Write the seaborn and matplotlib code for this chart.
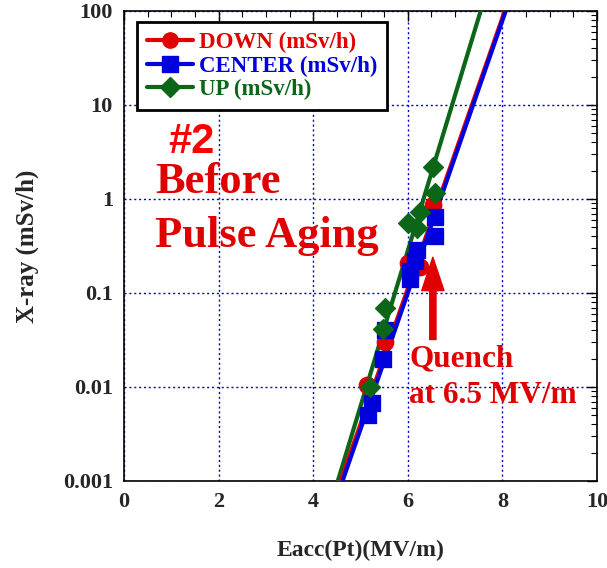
import numpy as np
import pandas as pd
import seaborn as sns
import matplotlib.pyplot as plt
from matplotlib.lines import Line2D
from matplotlib.ticker import MultipleLocator, LogLocator, NullFormatter, FixedLocator, FixedFormatter

sns.set_style('white')
plt.rcParams['font.family'] = ['Liberation Serif', 'DejaVu Serif']
plt.rcParams['font.weight'] = 'bold'

# measured points (Eacc MV/m, X-ray mSv/h)
down_x = [5.14, 5.52, 6.00, 6.26, 6.53]
down_y = [0.0105, 0.030, 0.21, 0.19, 0.87]

center_x = [5.16, 5.24, 5.48, 5.52, 6.05, 6.05, 6.15, 6.20, 6.58, 6.58]
center_y = [0.005, 0.0068, 0.020, 0.040, 0.14, 0.17, 0.22, 0.29, 0.40, 0.64]

up_x = [5.20, 5.48, 5.52, 6.00, 6.19, 6.26, 6.53, 6.58]
up_y = [0.010, 0.041, 0.070, 0.56, 0.49, 0.72, 2.2, 1.16]

# exponential fit lines
down_fit_x = [4.58, 8.05]
down_fit_y = [0.001, 100]
center_fit_x = [4.62, 8.07]
center_fit_y = [0.001, 100]
up_fit_x = [4.52, 7.54]
up_fit_y = [0.001, 100]

red = '#E00000'
blue = '#0000DD'
green = '#0B6618'

fig, ax = plt.subplots(figsize=(6.07, 5.68), dpi=100)
fig.subplots_adjust(left=124/607, right=597/607, top=1-11/568, bottom=1-481/568)

# fit lines
for fx, fy, c in [(up_fit_x, up_fit_y, green), (down_fit_x, down_fit_y, red),
                  (center_fit_x, center_fit_y, blue)]:
    sns.lineplot(x=fx, y=fy, color=c, lw=3, ax=ax, zorder=3)

df_d = pd.DataFrame({'x': down_x, 'y': down_y})
df_c = pd.DataFrame({'x': center_x, 'y': center_y})
df_u = pd.DataFrame({'x': up_x, 'y': up_y})
sns.scatterplot(data=df_d, x='x', y='y', marker='o', s=140, color=red, edgecolor=red, ax=ax, zorder=4)
sns.scatterplot(data=df_c, x='x', y='y', marker='s', s=140, color=blue, edgecolor=blue, ax=ax, zorder=5)
sns.scatterplot(data=df_u, x='x', y='y', marker='D', s=105, color=green, edgecolor=green, ax=ax, zorder=6)

ax.set_yscale('log')
ax.set_xlim(0, 10)
ax.set_ylim(0.001, 100)

ax.xaxis.set_major_locator(MultipleLocator(2))
ax.xaxis.set_minor_locator(MultipleLocator(0.5))
ax.yaxis.set_major_locator(FixedLocator([0.001, 0.01, 0.1, 1, 10, 100]))
ax.yaxis.set_major_formatter(FixedFormatter(['0.001', '0.01', '0.1', '1', '10', '100']))
ax.yaxis.set_minor_locator(LogLocator(base=10, subs=np.arange(2, 10), numticks=20))
ax.yaxis.set_minor_formatter(NullFormatter())

ax.tick_params(which='both', direction='in', top=True, right=True, color='black')
ax.tick_params(which='major', length=7, width=1, labelsize=16, pad=8)
ax.tick_params(which='minor', length=4, width=0.8)
for lab in ax.get_xticklabels() + ax.get_yticklabels():
    lab.set_fontweight('bold')

ax.grid(True, which='major', color='#0000CC', linestyle=(0, (1.5, 2)), linewidth=1)
for sp in ax.spines.values():
    sp.set_color('black')
    sp.set_linewidth(1.2)

ax.set_xlabel('Eacc(Pt)(MV/m)', fontsize=17, fontweight='bold', labelpad=20)
ax.set_ylabel('X-ray (mSv/h)', fontsize=18, fontweight='bold', labelpad=17)

handles = [
    Line2D([], [], color=red, lw=3, marker='o', ms=11),
    Line2D([], [], color=blue, lw=3, marker='s', ms=11),
    Line2D([], [], color=green, lw=3, marker='D', ms=10),
]
leg = ax.legend(handles, ['DOWN (mSv/h)', 'CENTER (mSv/h)', 'UP (mSv/h)'],
                loc='upper left', bbox_to_anchor=(0.027, 0.977), borderaxespad=0,
                fancybox=False, framealpha=1, edgecolor='black', handlelength=2.0,
                handletextpad=0.25, labelspacing=0.1, borderpad=0.45,
                labelcolor=[red, blue, green], prop={'size': 16.5, 'weight': 'bold'})
leg.get_frame().set_linewidth(2)
leg.set_zorder(10)

ax.text(0.093, 0.698, '#2', transform=ax.transAxes, color='#FF0000', fontsize=30,
        fontweight='bold', family=['Liberation Sans', 'DejaVu Sans'])
ax.text(0.066, 0.613, 'Before', transform=ax.transAxes, color=red, fontsize=32, fontweight='bold')
ax.text(0.066, 0.498, 'Pulse Aging', transform=ax.transAxes, color=red, fontsize=32, fontweight='bold')
ax.text(0.603, 0.243, 'Quench', transform=ax.transAxes, color=red, fontsize=22.5, fontweight='bold')
ax.text(0.603, 0.166, 'at 6.5 MV/m', transform=ax.transAxes, color=red, fontsize=22.5, fontweight='bold')

ax.annotate('', xy=(6.53, 0.24), xytext=(6.53, 0.032),
            arrowprops=dict(facecolor=red, edgecolor=red, width=4.5, headwidth=16, headlength=24))

fig.savefig('out.png', dpi=100)
